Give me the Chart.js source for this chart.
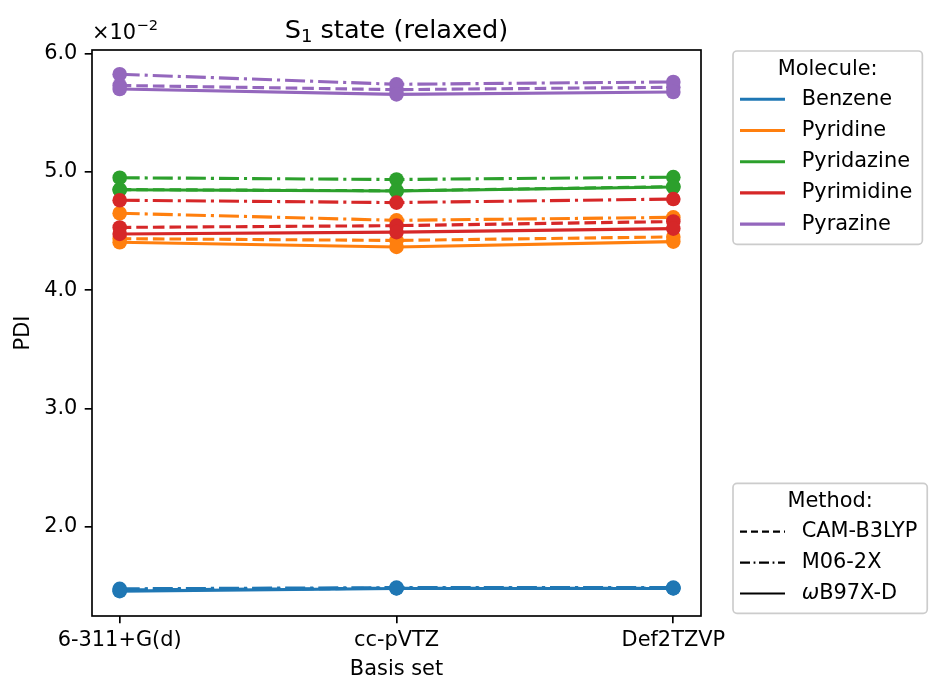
<!DOCTYPE html>
<html>
<head>
<meta charset="utf-8">
<script src="https://cdn.jsdelivr.net/npm/chart.js@4.4.1/dist/chart.umd.min.js"></script>
<style>
  html, body { margin: 0; padding: 0; background: #ffffff; }
  canvas { display: block; }
</style>
</head>
<body>
<canvas id="chart" width="929" height="681"></canvas>
<script>
// ---- data -------------------------------------------------------------
const categories = ['6-311+G(d)', 'cc-pVTZ', 'Def2TZVP'];
const molecules = ['Benzene', 'Pyridine', 'Pyridazine', 'Pyrimidine', 'Pyrazine'];
const methods = ['CAM-B3LYP', 'M06-2X', 'ωB97X-D'];
const yTickValues = [0.02, 0.03, 0.04, 0.05, 0.06];

// PDI of the relaxed S1 state, one value per basis set
const benzeneCAM   = [0.01465, 0.01480, 0.01480];
const benzeneM06   = [0.01475, 0.01485, 0.01485];
const benzeneWB97  = [0.01455, 0.01478, 0.01478];

const pyridineCAM  = [0.04435, 0.04420, 0.04450];
const pyridineM06  = [0.04650, 0.04590, 0.04615];
const pyridineWB97 = [0.04405, 0.04365, 0.04410];

const pyridazineCAM  = [0.04850, 0.04840, 0.04875];
const pyridazineM06  = [0.04950, 0.04935, 0.04955];
const pyridazineWB97 = [0.04848, 0.04838, 0.04872];

const pyrimidineCAM  = [0.04530, 0.04545, 0.04580];
const pyrimidineM06  = [0.04760, 0.04740, 0.04770];
const pyrimidineWB97 = [0.04475, 0.04490, 0.04520];

const pyrazineCAM  = [0.05730, 0.05695, 0.05715];
const pyrazineM06  = [0.05825, 0.05740, 0.05760];
const pyrazineWB97 = [0.05700, 0.05655, 0.05675];

// ---- styles -----------------------------------------------------------
const moleculeColors = ['#1f77b4', '#ff7f0e', '#2ca02c', '#d62728', '#9467bd'];
const methodDashes = [[11.6, 5], [20, 5, 3.1, 5], []];
const legendDashes = [[7, 4], [10, 3.6, 1.8, 3.6], []];

const seriesByMolecule = [
  [benzeneCAM, benzeneM06, benzeneWB97],
  [pyridineCAM, pyridineM06, pyridineWB97],
  [pyridazineCAM, pyridazineM06, pyridazineWB97],
  [pyrimidineCAM, pyrimidineM06, pyrimidineWB97],
  [pyrazineCAM, pyrazineM06, pyrazineWB97]
];

const FONT = 'DejaVu Sans';
const FS = 20.9;

const datasets = [];
seriesByMolecule.forEach((group, mi) => {
  group.forEach((vals, ki) => {
    datasets.push({
      label: molecules[mi] + ' / ' + methods[ki],
      data: vals.map((v, i) => ({ x: i, y: v })),
      borderColor: moleculeColors[mi],
      backgroundColor: moleculeColors[mi],
      pointBackgroundColor: moleculeColors[mi],
      pointBorderWidth: 0,
      pointRadius: 7.3,
      pointHoverRadius: 7.3,
      borderWidth: 3.1,
      borderDash: methodDashes[ki],
      tension: 0,
      fill: false
    });
  });
});
// later series are painted on top
datasets.forEach((d, i) => { d.order = datasets.length - i; });

// ---- decorations: frame, title, offset text, axis labels, legends -----
function measureLabel(ctx, l) {
  if (l.startsWith('ω')) {
    ctx.save();
    ctx.font = 'italic ' + FS + 'px "' + FONT + '"';
    const w1 = ctx.measureText('ω').width;
    ctx.restore();
    return w1 + ctx.measureText(l.slice(1)).width;
  }
  return ctx.measureText(l).width;
}

function drawLabel(ctx, l, x, y) {
  if (l.startsWith('ω')) {
    ctx.save();
    ctx.font = 'italic ' + FS + 'px "' + FONT + '"';
    ctx.fillText('ω', x, y);
    const w1 = ctx.measureText('ω').width;
    ctx.restore();
    ctx.fillText(l.slice(1), x + w1, y);
  } else {
    ctx.fillText(l, x, y);
  }
}

function drawLegend(ctx, left, top, title, rowY, labels, styleFn, bottom) {
  ctx.save();
  ctx.font = FS + 'px "' + FONT + '"';
  const textX = left + 68.7;
  let maxW = 0;
  labels.forEach(l => { maxW = Math.max(maxW, measureLabel(ctx, l)); });
  const right = textX + maxW + 10;
  const r = 4;
  ctx.beginPath();
  ctx.moveTo(left + r, top);
  ctx.lineTo(right - r, top);
  ctx.arcTo(right, top, right, top + r, r);
  ctx.lineTo(right, bottom - r);
  ctx.arcTo(right, bottom, right - r, bottom, r);
  ctx.lineTo(left + r, bottom);
  ctx.arcTo(left, bottom, left, bottom - r, r);
  ctx.lineTo(left, top + r);
  ctx.arcTo(left, top, left + r, top, r);
  ctx.closePath();
  ctx.fillStyle = 'rgba(255,255,255,0.8)';
  ctx.fill();
  ctx.strokeStyle = '#cccccc';
  ctx.lineWidth = 1.67;
  ctx.stroke();

  ctx.fillStyle = '#000';
  ctx.textBaseline = 'middle';
  ctx.textAlign = 'center';
  ctx.fillText(title, (left + right) / 2, top + 18.5);

  labels.forEach((l, i) => {
    const y = rowY[i];
    styleFn(ctx, i);
    ctx.beginPath();
    ctx.moveTo(left + 7, y);
    ctx.lineTo(left + 52, y);
    ctx.stroke();
    ctx.setLineDash([]);
    ctx.fillStyle = '#000';
    ctx.textAlign = 'left';
    drawLabel(ctx, l, textX, y);
  });
  ctx.restore();
}

const decorations = {
  id: 'decorations',
  afterDatasetsDraw(chart) {
    const ctx = chart.ctx;
    const a = chart.chartArea;
    ctx.save();
    // axes frame
    ctx.strokeStyle = '#000';
    ctx.lineWidth = 1.67;
    ctx.strokeRect(a.left, a.top, a.right - a.left, a.bottom - a.top);

    ctx.fillStyle = '#000';
    // title with subscript
    const cx = (a.left + a.right) / 2;
    const big = 25.6 + 'px "' + FONT + '"';
    const small = 18 + 'px "' + FONT + '"';
    ctx.font = big;
    const wS = ctx.measureText('S').width;
    const wRest = ctx.measureText(' state (relaxed)').width;
    ctx.font = small;
    const w1 = ctx.measureText('1').width;
    const x0 = cx - (wS + w1 + wRest) / 2;
    ctx.textBaseline = 'alphabetic';
    ctx.textAlign = 'left';
    ctx.font = big;
    ctx.fillText('S', x0, 38);
    ctx.font = small;
    ctx.fillText('1', x0 + wS, 42);
    ctx.font = big;
    ctx.fillText(' state (relaxed)', x0 + wS + w1, 38);

    // offset (scale) text of the y axis
    ctx.font = FS + 'px "' + FONT + '"';
    ctx.fillText('×10', a.left, 38.5);
    const w10 = ctx.measureText('×10').width;
    ctx.font = 14.6 + 'px "' + FONT + '"';
    ctx.fillText('−2', a.left + w10 + 0.5, 30);

    // axis titles
    ctx.font = FS + 'px "' + FONT + '"';
    ctx.textAlign = 'center';
    ctx.fillText('Basis set', cx, 675);
    ctx.save();
    ctx.translate(29, (a.top + a.bottom) / 2);
    ctx.rotate(-Math.PI / 2);
    ctx.fillText('PDI', 0, 0);
    ctx.restore();

    // legends
    drawLegend(ctx, 733, 51, 'Molecule:',
      [99.3, 130.5, 161.7, 192.9, 224.1], molecules,
      (c, i) => { c.strokeStyle = moleculeColors[i]; c.lineWidth = 3.1; c.setLineDash([]); },
      244.3);
    drawLegend(ctx, 733, 483.3, 'Method:',
      [531.7, 562.6, 593.5], methods,
      (c, i) => { c.strokeStyle = '#000'; c.lineWidth = 2.2; c.setLineDash(legendDashes[i]); },
      613.3);
    ctx.restore();
  }
};

const tickFont = { family: FONT, size: FS };

new Chart(document.getElementById('chart'), {
  type: 'line',
  data: { datasets },
  options: {
    responsive: false,
    animation: false,
    devicePixelRatio: 1,
    layout: { padding: { top: 50, right: 228, left: 0, bottom: 0 } },
    plugins: {
      legend: { display: false },
      title: { display: false },
      tooltip: { enabled: false }
    },
    scales: {
      x: {
        type: 'linear',
        min: -0.1,
        max: 2.1,
        afterBuildTicks: s => { s.ticks = categories.map((c, i) => ({ value: i })); },
        afterFit: s => { s.height = 65; },
        ticks: {
          callback: v => categories[Math.round(v)],
          color: '#000',
          font: tickFont,
          padding: 5,
          maxRotation: 0,
          autoSkip: false
        },
        grid: { drawOnChartArea: false, drawTicks: true, tickLength: 7.3, color: '#000', lineWidth: 1.67 },
        border: { display: false }
      },
      y: {
        type: 'linear',
        min: 0.01245,
        max: 0.0603,
        afterBuildTicks: s => { s.ticks = yTickValues.map(v => ({ value: v })); },
        afterFit: s => { s.width = 92; },
        ticks: {
          callback: v => (v * 100).toFixed(1),
          color: '#000',
          font: tickFont,
          padding: 7.3
        },
        grid: { drawOnChartArea: false, drawTicks: true, tickLength: 7.3, color: '#000', lineWidth: 1.67 },
        border: { display: false }
      }
    }
  },
  plugins: [decorations]
});
</script>
</body>
</html>
